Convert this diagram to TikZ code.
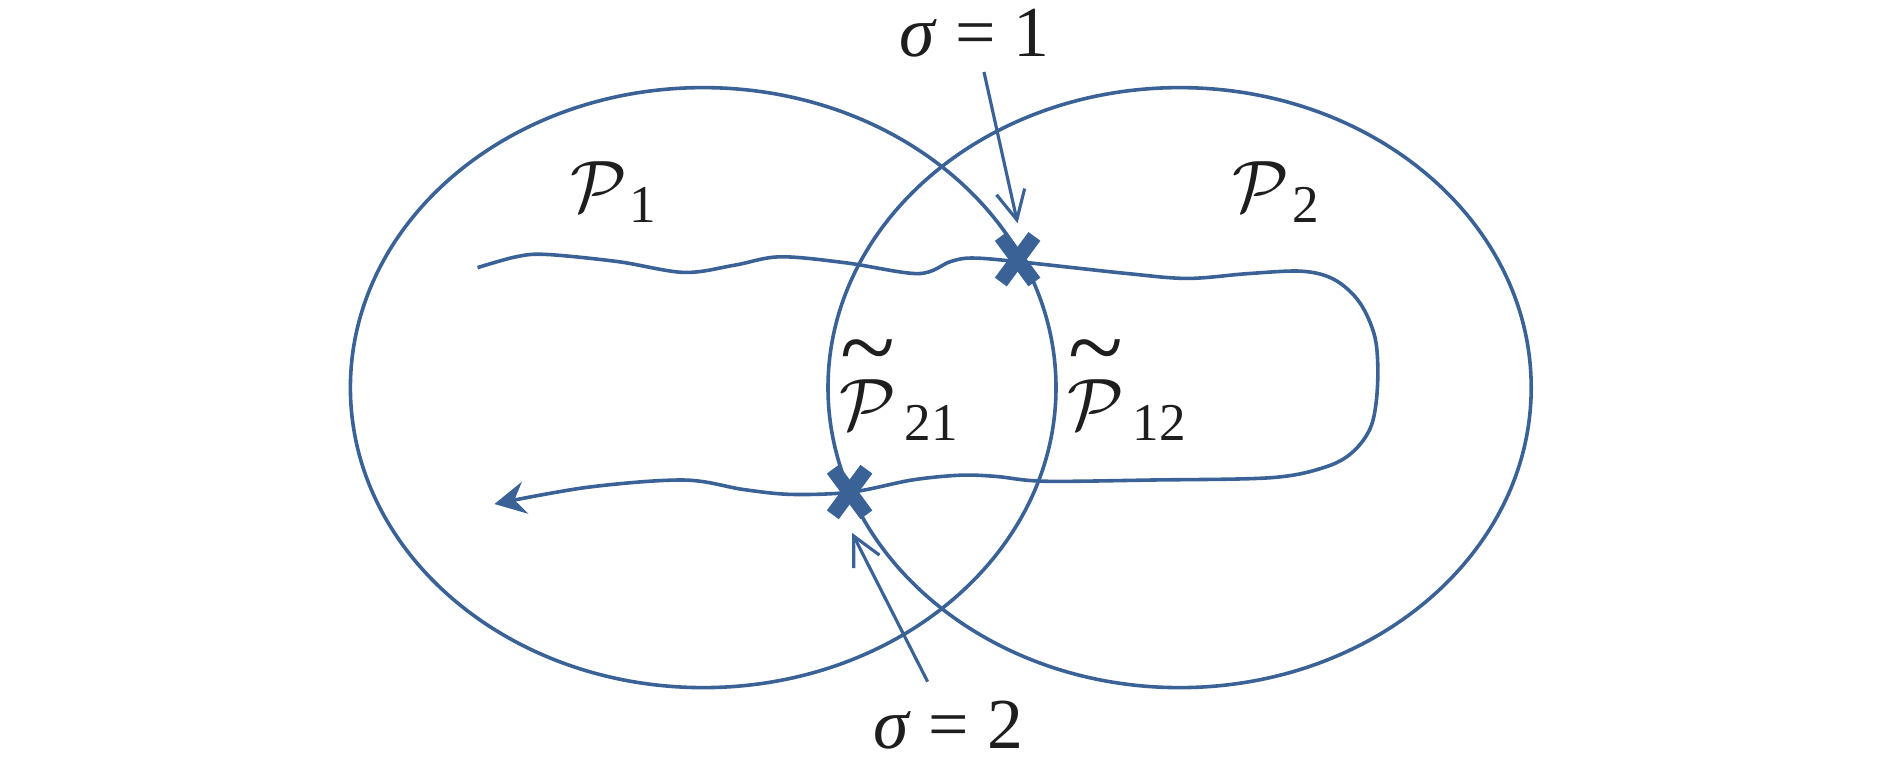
\documentclass[tikz,border=0pt]{standalone}
\usepackage{amsmath}
\usepackage{fontspec}
\setmainfont{Liberation Serif}
\usetikzlibrary{arrows.meta}
\definecolor{lineblue}{RGB}{59,98,150}
\definecolor{txt}{RGB}{30,30,30}
\newcommand{\mytil}{\text{\raisebox{-0.3em}[0.22em][0pt]{\fontsize{24}{24}\selectfont\char"7E}}}
\begin{document}
\begin{tikzpicture}[x=0.01cm,y=-0.01cm,
  curve/.style={draw=lineblue,line width=0.85pt},
  pointer/.style={draw=lineblue,line width=0.75pt,-{Straight Barb[length=0.24cm,width=0.24cm,line width=0.75pt]}},
  crossmark/.style={draw=lineblue,line width=3.5pt},
  lab/.style={text=txt,font=\fontsize{17}{20}\selectfont,inner sep=0pt},
  plab/.style={text=txt,font=\fontsize{18}{21}\selectfont,inner sep=0pt}]
\useasboundingbox (0,0) rectangle (1575,635);
% regions
\draw[curve] (586,323) ellipse [x radius=294, y radius=250];
\draw[curve] (983,323) ellipse [x radius=293, y radius=250];
% path
\draw[curve,-{Stealth[length=0.26cm,width=0.27cm,inset=0.09cm]}] plot[smooth,tension=0.55] coordinates {
 (398,223) (430,214) (455,212) (515,218) (570,227) (612,221) (650,214) (705,219)
 (765,228) (792,218) (810,215) (848,218) (940,228) (990,232) (1040,228) (1085,226)
 (1112,233) (1133,252) (1146,282) (1148,320) (1143,354) (1128,376) (1105,389)
 (1060,398) (960,400) (870,401) (830,397) (800,396) (760,400) (710,410) (660,412)
 (620,408) (570,400) (490,406) (412,420)};
% crossing marks
\coordinate (x1) at (848,216);
\coordinate (x2) at (708,410);
\foreach \c in {x1,x2}{
  \draw[crossmark] ([shift={(-14,-19)}]\c) -- ([shift={(14,19)}]\c);
  \draw[crossmark] ([shift={(14,-19)}]\c) -- ([shift={(-14,19)}]\c);
}
% labels
\node[lab] (s1) at (812,28) {\textit{σ} = 1};
\node[lab] (s2) at (790,604) {\textit{σ} = 2};
\node[plab] (p1) at (512,160) {$\mathcal{P}_{\,\text{1}}$};
\node[plab] (p2) at (1064,160) {$\mathcal{P}_{\,\text{2}}$};
\node[plab] (p21) at (750,328) {$\overset{\mytil}{\mathcal{P}}_{\,\text{21}}$};
\node[plab] (p12) at (940,328) {$\overset{\mytil}{\mathcal{P}}_{\,\text{12}}$};
% pointers
\coordinate (a1s) at (820,60);
\coordinate (a1e) at (848,186);
\coordinate (a2s) at (773,568);
\coordinate (a2e) at (710,444);
\draw[pointer] (a1s) -- (a1e);
\draw[pointer] (a2s) -- (a2e);
\end{tikzpicture}
\end{document}
